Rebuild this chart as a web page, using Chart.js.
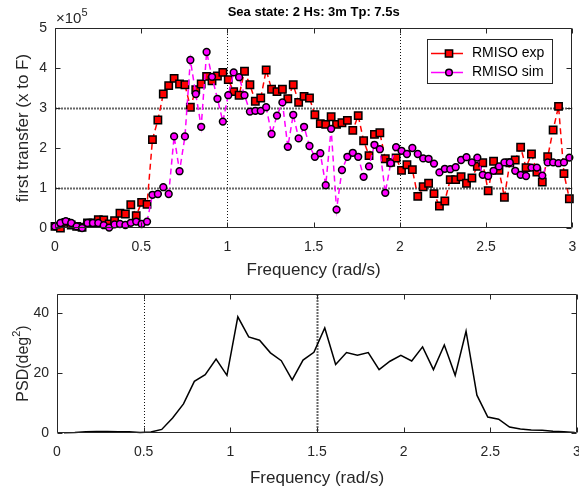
<!DOCTYPE html>
<html>
<head>
<meta charset="utf-8">
<script src="https://cdn.jsdelivr.net/npm/chart.js@4.4.1/dist/chart.umd.min.js"></script>
<style>
  html, body { margin: 0; padding: 0; background: #fff; overflow: hidden; }
  #wrap { position: relative; width: 579px; height: 490px; }
  canvas { position: absolute; left: 0; }
</style>
</head>
<body>
<div id="wrap">
  <canvas id="rmisoChart" width="579" height="285" style="top:0"></canvas>
  <canvas id="psdChart" width="579" height="205" style="top:285px"></canvas>
</div>
<script>
/* Data Value */
const freqStep = 0.0314; // rad/s between transfer samples
const rmisoExp = [
  0.04, 0.0, 0.14, 0.075, 0.04, 0.02, 0.125, 0.125, 0.21, 0.2,
  0.1, 0.18, 0.37, 0.35, 0.58, 0.31, 0.64, 0.59, 2.21, 2.7,
  3.35, 3.56, 3.74, 3.6, 3.58, 3.02, 3.46, 3.6, 3.79, 3.68,
  3.8, 3.89, 3.71, 3.41, 3.32, 3.92, 3.58, 3.17, 3.25, 3.95,
  3.47, 3.41, 3.47, 3.23, 3.58, 3.14, 3.29, 3.25, 2.83, 2.61,
  2.59, 2.78, 2.59, 2.63, 2.69, 2.44, 2.81, 2.18, 1.81, 2.34,
  2.38, 1.73, 1.64, 1.75, 1.44, 1.58, 1.46, 0.79, 1.03, 1.12,
  0.86, 0.55, 0.675, 1.21, 1.21, 1.28, 1.12, 1.25, 1.54, 1.63,
  0.93, 1.67, 1.44, 0.77, 1.63, 1.7, 2.02, 1.51, 1.85, 1.4,
  1.15, 1.78, 2.45, 3.04, 1.36, 0.73,
];
const rmisoSim = [
  0.04, 0.125, 0.17, 0.125, 0.04, 0.0, 0.125, 0.125, 0.125, 0.07,
  0.01, 0.09, 0.1, 0.075, 0.13, 0.16, 0.1, 0.16, 0.83, 0.85,
  1.02, 0.85, 2.29, 1.42, 2.29, 4.2, 3.35, 2.53, 4.4, 3.78,
  3.23, 2.66, 3.32, 3.89, 3.77, 3.32, 2.91, 2.93, 2.93, 3.02,
  2.35, 2.81, 3.14, 2.03, 2.83, 2.24, 2.53, 2.05, 1.78, 1.87,
  1.07, 2.48, 0.46, 1.45, 1.78, 1.88, 1.78, 1.28, 1.54, 2.08,
  1.97, 0.88, 1.62, 2.02, 1.93, 1.85, 2.0, 1.85, 1.74, 1.73,
  1.61, 1.39, 1.48, 1.47, 1.52, 1.7, 1.77, 1.64, 1.76, 1.33,
  1.3, 1.43, 1.54, 1.64, 1.64, 1.43, 1.33, 1.3, 1.51, 1.51,
  1.31, 1.64, 1.64, 1.62, 1.64, 1.76,
];

const psdStart = 0.04;
const psdStep = 0.0627;
const psdValues = [
  0.1, 0.2, 0.4, 0.5, 0.5, 0.4, 0.4, 0.2, 0.3, 1.2,
  5, 9.7, 17.2, 19.4, 24.6, 19.2, 38.7, 32, 30.9, 26.7,
  24.1, 17.7, 24.3, 26.9, 35, 22.8, 26.8, 25.9, 26.8, 21.1,
  23.9, 25.9, 24, 28.7, 21.1, 29.3, 19.2, 33.9, 12.6, 5.3,
  4.6, 2, 1.3, 1.0, 0.9, 0.6, 0.4, 0.2,
];

const freqTicks = [0, 0.5, 1, 1.5, 2, 2.5, 3];
const rmisoTicks = [0, 1, 2, 3, 4, 5];
const psdTicks = [0, 20, 40];

const FONT = '"Liberation Sans", Arial, Helvetica, sans-serif';
const INK = "#262626";

const toPoints = (arr, start, step) => arr.map((v, i) => ({ x: start + i * step, y: v }));

/* helpers */
function strokeLine(ctx, x1, y1, x2, y2, style) {
  ctx.save();
  ctx.strokeStyle = style.color;
  ctx.lineWidth = style.width;
  ctx.setLineDash(style.dash || []);
  ctx.beginPath();
  ctx.moveTo(x1, y1);
  ctx.lineTo(x2, y2);
  ctx.stroke();
  ctx.restore();
}

const thinDot = { color: "#111", width: 1, dash: [1, 2] };
const thickDot = { color: "#666", width: 2, dash: [2, 1] };

// MATLAB-ish box with inward ticks plus xline/yline style reference lines
function axesBox(refs) {
  return {
    id: "axesBox",
    beforeDatasetsDraw(chart) {
      const { ctx, chartArea: a, scales } = chart;
      (refs.x || []).forEach((r) => {
        const px = Math.round(scales.x.getPixelForValue(r.v)) + 0.5;
        strokeLine(ctx, px, a.top, px, a.bottom, r.style);
      });
      (refs.y || []).forEach((r) => {
        const py = Math.round(scales.y.getPixelForValue(r.v)) + 0.5;
        strokeLine(ctx, a.left, py, a.right, py, r.style);
      });
    },
    afterDatasetsDraw(chart) {
      const { ctx, chartArea: a, scales } = chart;
      const solid = { color: INK, width: 1 };
      const L = Math.round(a.left) + 0.5, R = Math.round(a.right) - 0.5;
      const T = Math.round(a.top) + 0.5, B = Math.round(a.bottom) - 0.5;
      scales.x.ticks.forEach((t) => {
        const px = Math.round(scales.x.getPixelForValue(t.value)) + 0.5;
        strokeLine(ctx, px, B, px, B - 5, solid);
        strokeLine(ctx, px, T, px, T + 5, solid);
      });
      scales.y.ticks.forEach((t) => {
        const py = Math.round(scales.y.getPixelForValue(t.value)) + 0.5;
        strokeLine(ctx, L, py, L + 5, py, solid);
        strokeLine(ctx, R, py, R - 5, py, solid);
      });
      strokeLine(ctx, L, T, R, T, solid);
      strokeLine(ctx, R, T, R, B, solid);
      strokeLine(ctx, R, B, L, B, solid);
      strokeLine(ctx, L, B, L, T, solid);
    },
  };
}

// axis labels, title etc. (pieces: [text, isSuperscript])
function drawPieces(ctx, pieces, x, y, size, rotate) {
  ctx.save();
  ctx.translate(x, y);
  if (rotate) ctx.rotate(-Math.PI / 2);
  ctx.fillStyle = INK;
  ctx.textBaseline = "alphabetic";
  ctx.textAlign = "left";
  let total = 0;
  const widths = pieces.map(([t, sup]) => {
    ctx.font = `${sup ? Math.round(size * 0.7) : size}px ${FONT}`;
    const w = ctx.measureText(t).width;
    total += w;
    return w;
  });
  let cx = -total / 2;
  pieces.forEach(([t, sup], k) => {
    ctx.font = `${sup ? Math.round(size * 0.7) : size}px ${FONT}`;
    ctx.fillText(t, cx, sup ? size * 0.35 - size * 0.45 : size * 0.35);
    cx += widths[k];
  });
  ctx.restore();
}

const topText = {
  id: "topText",
  afterDraw(chart) {
    const { ctx, chartArea: a } = chart;
    const cx = (a.left + a.right) / 2;
    ctx.save();
    ctx.fillStyle = "#000";
    ctx.font = `bold 13px ${FONT}`;
    ctx.textAlign = "center";
    ctx.textBaseline = "middle";
    ctx.fillText("Sea state: 2 Hs: 3m Tp: 7.5s", cx, 12);
    ctx.fillStyle = INK;
    ctx.textAlign = "left";
    ctx.textBaseline = "alphabetic";
    ctx.font = `15px ${FONT}`;
    ctx.fillText("\u00d710", a.left + 1, 23);
    const w = ctx.measureText("\u00d710").width;
    ctx.font = `11px ${FONT}`;
    ctx.fillText("5", a.left + 1 + w, 16);
    ctx.restore();
    drawPieces(ctx, [["Frequency (rad/s)", false]], cx, 269, 17, false);
    drawPieces(ctx, [["first transfer (x to F)", false]], 22, (a.top + a.bottom) / 2, 17, true);
  },
};

const legendBox = {
  id: "legendBox",
  afterDatasetsDraw(chart) {
    const ctx = chart.ctx;
    const bx = 427, by = 39, bw = 125, bh = 44;
    ctx.save();
    ctx.fillStyle = "#fff";
    ctx.fillRect(bx, by, bw, bh);
    ctx.strokeStyle = INK;
    ctx.lineWidth = 1;
    ctx.strokeRect(bx + 0.5, by + 0.5, bw, bh);
    chart.data.datasets.forEach((ds, k) => {
      const yy = 53.5 + k * 19;
      strokeLine(ctx, 431, yy, 463, yy, { color: ds.borderColor, width: 1.5 });
      ctx.fillStyle = ds.pointBackgroundColor;
      ctx.strokeStyle = "#000";
      ctx.lineWidth = 1.5;
      ctx.beginPath();
      if (ds.pointStyle === "rect") ctx.rect(449 - 3.6, yy - 3.6, 7.2, 7.2);
      else ctx.arc(449, yy, 3.3, 0, Math.PI * 2);
      ctx.fill();
      ctx.stroke();
      ctx.fillStyle = "#000";
      ctx.font = `14px ${FONT}`;
      ctx.textAlign = "left";
      ctx.textBaseline = "middle";
      ctx.fillText(ds.label, 472, yy);
    });
    ctx.restore();
  },
};

const bottomText = {
  id: "bottomText",
  afterDraw(chart) {
    const { ctx, chartArea: a } = chart;
    drawPieces(ctx, [["Frequency (rad/s)", false]], (a.left + a.right) / 2, 192, 17, false);
    drawPieces(ctx, [["PSD(deg", false], ["2", true], [")", false]], 22, (a.top + a.bottom) / 2, 16, true);
  },
};

const tickFont = { family: FONT, size: 14 };
const plainLabel = (v) => String(v);

function freqAxis(height) {
  return {
    type: "linear",
    min: 0,
    max: 3,
    afterBuildTicks: (s) => { s.ticks = freqTicks.map((v) => ({ value: v })); },
    afterFit: (s) => { s.height = height; s.paddingLeft = 0; s.paddingRight = 0; },
    grid: { display: false, drawTicks: false },
    border: { display: false },
    ticks: { color: INK, font: tickFont, padding: 11, maxRotation: 0, autoSkip: false, callback: plainLabel },
  };
}

function valueAxis(max, ticks, width) {
  return {
    min: 0,
    max: max,
    afterBuildTicks: (s) => { s.ticks = ticks.map((v) => ({ value: v })); },
    afterFit: (s) => { s.width = width; s.paddingTop = 0; s.paddingBottom = 0; },
    grid: { display: false, drawTicks: false },
    border: { display: false },
    ticks: { color: INK, font: tickFont, padding: 8, callback: plainLabel },
  };
}

/* Chart: transfer function */
const rmisoChart = new Chart(document.getElementById("rmisoChart"), {
  type: "line",
  data: {
    datasets: [
      {
        label: "RMISO exp",
        data: toPoints(rmisoExp, 0, freqStep),
        borderColor: "#ff0000",
        borderWidth: 1.5,
        borderDash: [6, 4],
        pointStyle: "rect",
        pointRadius: 5.2,
        pointBackgroundColor: "#ff0000",
        pointBorderColor: "#000",
        pointBorderWidth: 1.5,
        tension: 0,
        clip: false,
        order: 2,
      },
      {
        label: "RMISO sim",
        data: toPoints(rmisoSim, 0, freqStep),
        borderColor: "#ff00ff",
        borderWidth: 1.5,
        borderDash: [6, 4],
        pointStyle: "circle",
        pointRadius: 3.4,
        pointBackgroundColor: "#ff00ff",
        pointBorderColor: "#000",
        pointBorderWidth: 1.5,
        tension: 0,
        clip: false,
        order: 1,
      },
    ],
  },
  options: {
    responsive: false,
    animation: false,
    devicePixelRatio: 1,
    layout: { padding: { left: 0, top: 28, right: 2, bottom: 0 } },
    scales: {
      x: freqAxis(57),
      y: valueAxis(5, rmisoTicks, 55),
    },
    plugins: { legend: { display: false }, tooltip: { enabled: false } },
  },
  plugins: [
    axesBox({
      x: [{ v: 1, style: thinDot }, { v: 2, style: thinDot }],
      y: [{ v: 1, style: thickDot }, { v: 3, style: thickDot }],
    }),
    legendBox,
    topText,
  ],
});

/* Chart: wave PSD */
const psdChart = new Chart(document.getElementById("psdChart"), {
  type: "line",
  data: {
    datasets: [
      {
        label: "PSD",
        data: toPoints(psdValues, psdStart, psdStep),
        borderColor: "#000",
        borderWidth: 1.5,
        pointRadius: 0,
        tension: 0,
        clip: false,
      },
    ],
  },
  options: {
    responsive: false,
    animation: false,
    devicePixelRatio: 1,
    layout: { padding: { left: 0, top: 9, right: 2, bottom: 0 } },
    scales: {
      x: freqAxis(57),
      y: valueAxis(46.3, psdTicks, 57),
    },
    plugins: { legend: { display: false }, tooltip: { enabled: false } },
  },
  plugins: [
    axesBox({
      x: [{ v: 0.5, style: thinDot }, { v: 1.5, style: thickDot }],
    }),
    bottomText,
  ],
});
</script>
</body>
</html>
